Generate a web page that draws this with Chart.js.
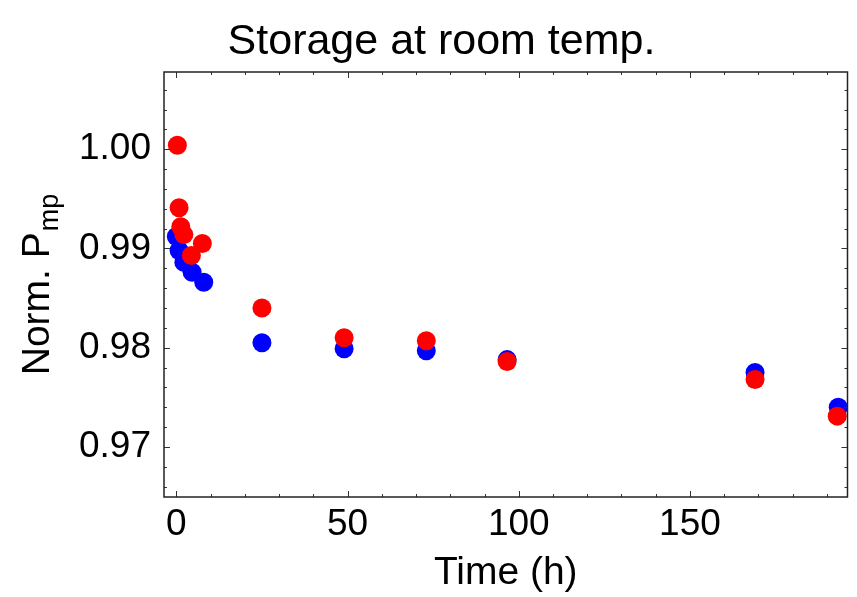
<!DOCTYPE html>
<html>
<head>
<meta charset="utf-8">
<script src="https://cdn.jsdelivr.net/npm/chart.js@4"></script>
<style>
  body { margin: 0; background: #fff; }
  canvas { display: block; }
</style>
</head>
<body>
<canvas id="storageChart" width="857" height="597"></canvas>
<script>
// values
var redTimes  = [0.3, 0.8, 1.3, 2.2, 4.4, 7.6, 25, 49, 73, 96.6, 169, 193];
var redPmp    = [1.0004, 0.9941, 0.9922, 0.9914, 0.9893, 0.9905, 0.9840, 0.9810, 0.9807, 0.9786, 0.9768, 0.9731];
var blueTimes = [0, 0.8, 2.2, 4.6, 8, 25, 49, 73, 96.6, 169, 193.3];
var bluePmp   = [0.9912, 0.9898, 0.9886, 0.9876, 0.9866, 0.9805, 0.9799, 0.9797, 0.9788, 0.9775, 0.9740];

var xTicks = [0, 50, 100, 150];
var yTicks = [0.97, 0.98, 0.99, 1.00];

var FONT = "'Liberation Sans', Arial, Helvetica, sans-serif";

function toPoints(xs, ys) {
    return xs.map(function(x, i) { return {x: x, y: ys[i]}; });
}

// frame with inward tick marks, like the original
var framePlugin = {
    id: "frame",
    afterDatasetsDraw: function(chart) {
        var ctx = chart.ctx, a = chart.chartArea;
        var xs = chart.scales.x, ys = chart.scales.y;
        ctx.save();
        ctx.strokeStyle = "#333";
        ctx.lineWidth = 1;
        var t, p, len;
        for (t = 0; t <= 190; t += 10) {
            p = Math.round(xs.getPixelForValue(t)) + 0.5;
            len = (t % 50 === 0) ? 6 : 3;
            ctx.beginPath();
            ctx.moveTo(p, a.bottom); ctx.lineTo(p, a.bottom - len);
            ctx.moveTo(p, a.top); ctx.lineTo(p, a.top + len);
            ctx.stroke();
        }
        for (t = 966; t <= 1006; t += 2) {
            p = Math.round(ys.getPixelForValue(t / 1000)) + 0.5;
            len = (t % 10 === 0) ? 6 : 3;
            ctx.beginPath();
            ctx.moveTo(a.left, p); ctx.lineTo(a.left + len, p);
            ctx.moveTo(a.right, p); ctx.lineTo(a.right - len, p);
            ctx.stroke();
        }
        ctx.strokeStyle = "#222";
        ctx.lineWidth = 1.5;
        ctx.strokeRect(a.left, a.top, a.right - a.left, a.bottom - a.top);
        ctx.restore();
    },
    // y title with the subscript "mp"
    afterDraw: function(chart) {
        var ctx = chart.ctx, a = chart.chartArea;
        var main = "Norm. P", sub = "mp";
        ctx.save();
        ctx.fillStyle = "#000";
        ctx.translate(49, (a.top + a.bottom) / 2);
        ctx.rotate(-Math.PI / 2);
        ctx.textBaseline = "alphabetic";
        ctx.font = "39px " + FONT;
        var w1 = ctx.measureText(main).width;
        ctx.font = "27px " + FONT;
        var w2 = ctx.measureText(sub).width;
        var start = -(w1 + w2 + 1) / 2;
        ctx.font = "39px " + FONT;
        ctx.fillText(main, start, 0);
        ctx.font = "27px " + FONT;
        ctx.fillText(sub, start + w1 + 1, 9);
        ctx.restore();
    }
};

new Chart(document.getElementById("storageChart"), {
    type: "scatter",
    data: {
        datasets: [{
            label: "red",
            data: toPoints(redTimes, redPmp),
            backgroundColor: "#ff0000",
            borderWidth: 0,
            pointRadius: 9.5,
            pointHoverRadius: 9.5
        }, {
            label: "blue",
            data: toPoints(blueTimes, bluePmp),
            backgroundColor: "#0000ff",
            borderWidth: 0,
            pointRadius: 9.5,
            pointHoverRadius: 9.5
        }]
    },
    options: {
        responsive: false,
        animation: false,
        layout: { padding: { left: 32, right: 6, top: 0, bottom: 0 } },
        plugins: {
            legend: { display: false },
            tooltip: { enabled: false },
            title: {
                display: true,
                text: "Storage at room temp.",
                color: "#000",
                font: { family: FONT, size: 43, weight: "normal", lineHeight: 1.2 },
                padding: { top: 16, bottom: 4.4 }
            }
        },
        scales: {
            x: {
                type: "linear",
                min: -3.6,
                max: 196,
                grid: { display: false, drawTicks: false },
                border: { display: false },
                afterFit: function(s) { s.height = 100; },
                afterBuildTicks: function(s) {
                    s.ticks = xTicks.map(function(v) { return {value: v}; });
                },
                ticks: {
                    color: "#000",
                    padding: 6,
                    font: { family: FONT, size: 37 },
                    callback: function(v) { return String(v); }
                },
                title: {
                    display: true,
                    text: "Time (h)",
                    color: "#000",
                    font: { family: FONT, size: 39 },
                    padding: { top: 0, bottom: 0 }
                }
            },
            y: {
                type: "linear",
                min: 0.96495,
                max: 1.00779,
                grid: { display: false, drawTicks: false },
                border: { display: false },
                afterFit: function(s) { s.width = 132; },
                afterBuildTicks: function(s) {
                    s.ticks = yTicks.map(function(v) { return {value: v}; });
                },
                ticks: {
                    color: "#000",
                    padding: 13,
                    font: { family: FONT, size: 37 },
                    callback: function(v) { return v.toFixed(2); }
                }
            }
        }
    },
    plugins: [framePlugin]
});
</script>
</body>
</html>
